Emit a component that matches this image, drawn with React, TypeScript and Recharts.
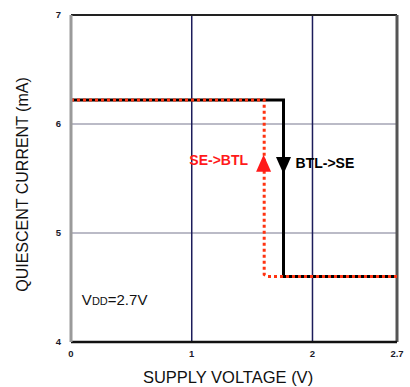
import React from 'react';
import { LineChart, Line, XAxis, YAxis, CartesianGrid, ReferenceLine, ReferenceDot, Label } from 'recharts';

const xTicks = [0, 1, 2, 2.7];
const yTicks = [4, 5, 6, 7];

const btlToSe = [
  { v: 0, i: 6.22 },
  { v: 1.76, i: 6.22 },
  { v: 1.76, i: 4.6 },
  { v: 2.7, i: 4.6 },
];
const seToBtl = [
  { v: 0, i: 6.22 },
  { v: 1.6, i: 6.22 },
  { v: 1.6, i: 4.62 },
  { v: 1.63, i: 4.6 },
  { v: 2.7, i: 4.6 },
];

const upArrow = { v: 1.595, i: 5.64 };
const downArrow = { v: 1.76, i: 5.62 };
const seLabel = { v: 0.98, i: 5.67, text: 'SE->BTL' };
const btLabel = { v: 1.86, i: 5.64, text: 'BTL->SE' };
const vddLabel = { v: 0.09, i: 4.39 };

const FONT = 'Liberation Sans, Arial, sans-serif';
const tickStyle = { fontSize: 9.5, fontWeight: 700, fill: '#1a1a2a', fontFamily: FONT };

const Tri = (props: any) => {
  const { cx, cy, dir, color } = props;
  if (cx == null || cy == null) return null;
  const w = 7.5, h = 8.5;
  const pts = dir === 'up'
    ? `${cx},${cy - h} ${cx - w},${cy + h} ${cx + w},${cy + h}`
    : `${cx - w},${cy - h} ${cx + w},${cy - h} ${cx},${cy + h}`;
  return <polygon points={pts} fill={color} />;
};

const Txt = (props: any) => {
  const { cx, cy, text, color, anchor, size, weight } = props;
  if (cx == null || cy == null) return null;
  return (
    <text x={cx} y={cy + size * 0.36} textAnchor={anchor} fill={color}
      fontSize={size} fontWeight={weight} fontFamily={FONT}>
      {text}
    </text>
  );
};

const Vdd = (props: any) => {
  const { cx, cy } = props;
  if (cx == null || cy == null) return null;
  return (
    <text x={cx} y={cy + 5.5} fill="#111" fontSize={15} fontFamily={FONT}>
      V<tspan fontSize={11}>DD</tspan><tspan>=2.7V</tspan>
    </text>
  );
};

const YTitle = (props: any) => {
  const vb = props.viewBox || {};
  const cy = (vb.y ?? 15) + (vb.height ?? 327) / 2 + 6;
  return (
    <text x={28} y={cy} transform={`rotate(-90, 28, ${cy})`} textAnchor="middle" fill="#111"
      fontSize={16} fontFamily={FONT}>
      QUIESCENT CURRENT (mA)
    </text>
  );
};

const XTitle = (props: any) => {
  const vb = props.viewBox || {};
  const cx = (vb.x ?? 71) + (vb.width ?? 326) / 2 - 6;
  return (
    <text x={cx} y={383} textAnchor="middle" fill="#111" fontSize={16.5} fontFamily={FONT}>
      SUPPLY VOLTAGE (V)
    </text>
  );
};

export default function App() {
  return (
    <div style={{ position: 'absolute', left: 0, top: 0, width: 410, height: 387, background: '#fff' }}>
      <LineChart width={410} height={387} margin={{ top: 15, right: 13, bottom: 0, left: 0 }}>
        <CartesianGrid vertical={false} stroke="#a4a4b4" strokeWidth={1.5} />
        <XAxis type="number" dataKey="v" domain={[0, 2.7]} ticks={xTicks} height={45}
          axisLine={{ stroke: '#111', strokeWidth: 2.5 }} tickLine={false} tick={tickStyle} tickMargin={2}
          allowDuplicatedCategory={false}>
          <Label content={(p: any) => <XTitle {...p} />} />
        </XAxis>
        <YAxis type="number" dataKey="i" domain={[4, 7]} ticks={yTicks} width={71}
          axisLine={{ stroke: '#9a9a9a', strokeWidth: 3 }} tickLine={false} tick={tickStyle} tickMargin={4}>
          <Label content={(p: any) => <YTitle {...p} />} />
        </YAxis>
        <ReferenceLine x={1} stroke="#1c1c5a" strokeWidth={1.5} />
        <ReferenceLine x={2} stroke="#1c1c5a" strokeWidth={1.5} />
        <ReferenceLine y={7} stroke="#222" strokeWidth={2} />
        <ReferenceLine x={2.7} stroke="#555" strokeWidth={3} />
        <Line data={btlToSe} dataKey="i" type="linear" stroke="#000" strokeWidth={3} dot={false}
          isAnimationActive={false} />
        <Line data={seToBtl} dataKey="i" type="linear" stroke="#ff3311" strokeWidth={3}
          strokeDasharray="3 3" dot={false} isAnimationActive={false} />
        <ReferenceDot x={upArrow.v} y={upArrow.i} shape={(p: any) => <Tri {...p} dir="up" color="#ff1a1a" />} />
        <ReferenceDot x={downArrow.v} y={downArrow.i} shape={(p: any) => <Tri {...p} dir="down" color="#000" />} />
        <ReferenceDot x={seLabel.v} y={seLabel.i}
          shape={(p: any) => <Txt {...p} text={seLabel.text} color="#ff1a1a" anchor="start" size={14} weight={700} />} />
        <ReferenceDot x={btLabel.v} y={btLabel.i}
          shape={(p: any) => <Txt {...p} text={btLabel.text} color="#000" anchor="start" size={14} weight={700} />} />
        <ReferenceDot x={vddLabel.v} y={vddLabel.i} shape={(p: any) => <Vdd {...p} />} />
      </LineChart>
    </div>
  );
}
